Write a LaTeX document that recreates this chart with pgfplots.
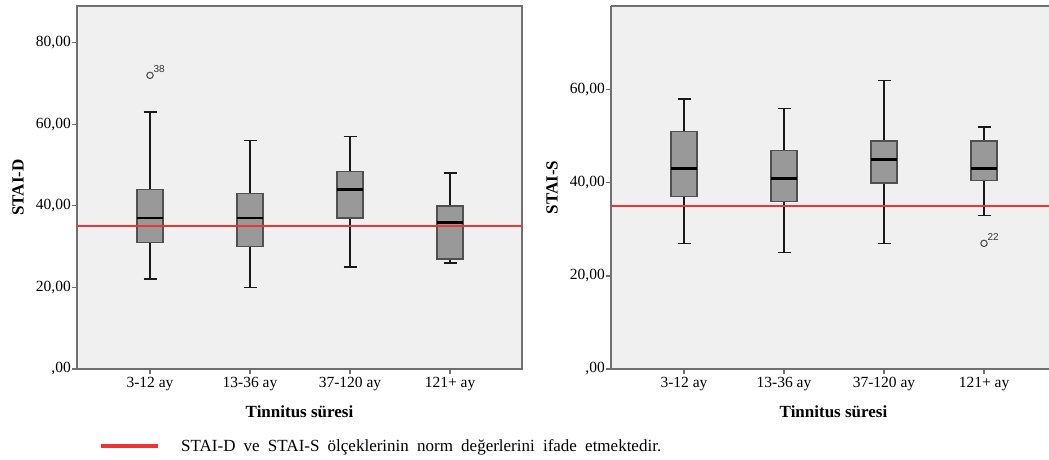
\documentclass[border=0pt]{standalone}
\usepackage{fontspec}
\setmainfont{Liberation Serif}
\setsansfont{Liberation Sans}
\usepackage{pgfplots}
\pgfplotsset{compat=1.18}
\usepgfplotslibrary{statistics}
\definecolor{bg}{HTML}{F0F0F0}
\definecolor{boxgray}{HTML}{999999}
\definecolor{edge}{HTML}{505050}
\definecolor{frame}{HTML}{707070}
\definecolor{normred}{HTML}{EE3333}

\pgfplotsset{
  spss/.style={
    scale only axis, height=363pt, anchor=south west,
    xmin=0.27, ymin=0,
    axis background/.style={fill=bg},
    axis line style={frame, line width=1.4pt},
    xtick={1,2,3,4}, xticklabels={3-12 ay,13-36 ay,37-120 ay,121+ ay},
    xtick pos=lower, ytick pos=left, tick align=outside,
    major tick length=5pt, tick style={frame, line width=1.2pt},
    ticklabel style={font=\fontsize{15.5}{18}\selectfont, text=black},
    yticklabel style={inner sep=1pt},
    /pgf/number format/assume math mode=true,
    xlabel={Tinnitus süresi},
    xlabel style={font=\bfseries\fontsize{17}{20}\selectfont, at={(axis cs:2.495,0)}, anchor=center, yshift=-43pt},
    ylabel style={font=\bfseries\fontsize{17}{20}\selectfont, anchor=center},
    boxplot/draw direction=y,
    boxplot/box extend=0.26,
    boxplot/whisker extend=0.13,
    boxplot/every box/.style={fill=boxgray, draw=edge, line width=1.3pt},
    boxplot/every median/.style={black, line width=2.8pt},
    boxplot/every whisker/.style={black!90, line width=1.6pt},
    outl/.style={only marks, mark=o, mark size=3.2pt, draw=edge, line width=1.1pt, forget plot,
      nodes near coords style={font=\sffamily\fontsize{10}{12}\selectfont, text=black!80, anchor=south west, inner sep=0pt, xshift=3pt, yshift=2pt}},
  }
}

\begin{document}
\begin{tikzpicture}[x=1pt,y=1pt]
\useasboundingbox (0,0) rectangle (1049,459);

% ---------- STAI-D ----------
\begin{axis}[spss, at={(77pt,90pt)}, width=445pt, xmax=4.72, ymax=89,
  ytick={0,20,40,60,80}, yticklabels={{,00},{20,00},{40,00},{60,00},{80,00}},
  ylabel={STAI-D}, ylabel style={at={(axis description cs:-0.1326,0.5)}},
  legend style={at={(axis description cs:0,0)}, anchor=west, xshift=22pt, yshift=-77pt,
    draw=none, fill=none, inner sep=0pt,
    font=\fontsize{17}{20}\selectfont,
    nodes={inner sep=0pt},
    /tikz/every odd column/.append style={column sep=21pt}},
  legend image code/.code={\draw[normred, line width=4pt] (0pt,0pt) -- (57pt,0pt);},
]
\addplot+[forget plot, boxplot prepared={draw position=1, lower whisker=22, lower quartile=31, median=37, upper quartile=44, upper whisker=63}] coordinates {};
\addplot+[forget plot, boxplot prepared={draw position=2, lower whisker=20, lower quartile=30, median=37, upper quartile=43, upper whisker=56}] coordinates {};
\addplot+[forget plot, boxplot prepared={draw position=3, lower whisker=25, lower quartile=37, median=44, upper quartile=48.5, upper whisker=57}] coordinates {};
\addplot+[forget plot, boxplot prepared={draw position=4, lower whisker=26, lower quartile=27, median=36, upper quartile=40, upper whisker=48}] coordinates {};
\addplot[outl, nodes near coords={38}] coordinates {(1,72)};
\addplot[normred, line width=2.2pt] coordinates {(0.27,35) (4.72,35)};
\addlegendentry{\makebox[480pt][s]{STAI-D ve STAI-S ölçeklerinin norm değerlerini ifade etmektedir.}}
\end{axis}

% ---------- STAI-S ----------
\begin{axis}[spss, at={(611pt,90pt)}, width=438pt, xmax=4.65, ymax=78,
  axis x line*=box, axis y line*=left, xtick pos=lower, ytick pos=left,
  ytick={0,20,40,60}, yticklabels={{,00},{20,00},{40,00},{60,00}},
  ylabel={STAI-S}, ylabel style={at={(axis description cs:-0.1347,0.5)}},
]
\addplot+[forget plot, boxplot prepared={draw position=1, lower whisker=27, lower quartile=37, median=43, upper quartile=51, upper whisker=58}] coordinates {};
\addplot+[forget plot, boxplot prepared={draw position=2, lower whisker=25, lower quartile=36, median=41, upper quartile=47, upper whisker=56}] coordinates {};
\addplot+[forget plot, boxplot prepared={draw position=3, lower whisker=27, lower quartile=40, median=45, upper quartile=49, upper whisker=62}] coordinates {};
\addplot+[forget plot, boxplot prepared={draw position=4, lower whisker=33, lower quartile=40.5, median=43, upper quartile=49, upper whisker=52}] coordinates {};
\addplot[outl, nodes near coords={22}] coordinates {(4,27)};
\addplot[normred, line width=2.2pt] coordinates {(0.27,35) (4.65,35)};
\end{axis}
\end{tikzpicture}
\end{document}
